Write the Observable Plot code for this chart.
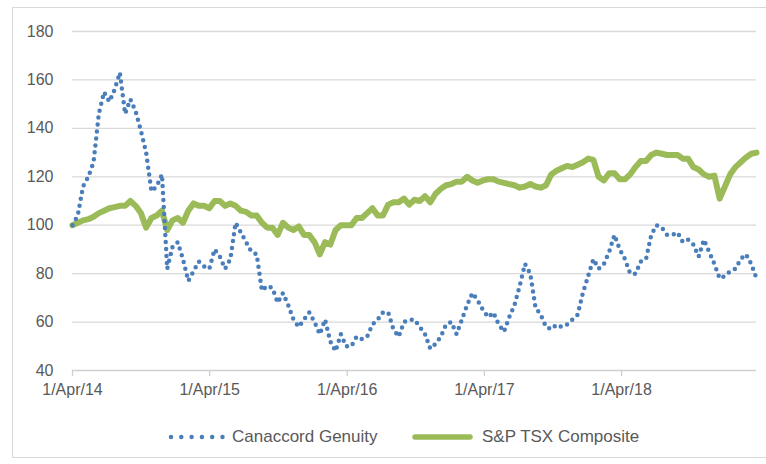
<!DOCTYPE html>
<html><head><meta charset="utf-8">
<script src="https://cdn.jsdelivr.net/npm/d3@7"></script>
<script src="https://cdn.jsdelivr.net/npm/@observablehq/plot@0.6"></script>
<style>
body{margin:0;background:#fff;font-family:"Liberation Sans",Arial,Helvetica,sans-serif;}
#frame{position:absolute;left:12px;top:7px;width:770px;height:451px;border:1px solid #d9d9d9;box-sizing:border-box}
#chart{position:absolute;left:0;top:0}
#legend{position:absolute;left:0;top:0;width:766px;height:464px;pointer-events:none;font-size:17px;color:#595959}
.lg{position:absolute;white-space:nowrap;line-height:20px}
</style></head><body>
<div id="frame"></div>
<div id="chart"></div>
<div id="legend"></div>
<script>
// ---- data (biweekly) ----
const startDate = "2014-04-01";
const stepDays = 14;
const seriesNames = ["Canaccord Genuity", "S&P TSX Composite"];
const canaccord = [
  100,104,116,120,126,146,155,151,156,163,
  146,152,147,139,130,114,116,121,82,91,
  93,86,77,81,85,83,82,90,87,82,
  86,101,97,93,89,88,73,75,74,68,
  72,67,61,58,61,64,60,55,61,52,
  48,55,50,50,54,53,54,59,61,64,
  64,57,54,60,61,61,58,55,49,51,
  54,59,60,55,61,67,72,69,65,62,
  64,59,56,62,67,75,84,80,66,63,
  58,57,59,58,59,61,63,72,79,86,
  82,84,89,96,90,86,80,80,85,86,
  96,100,99,96,96,97,93,94,92,87,
  94,89,84,78,79,81,82,86,88,84,
  78
];
const tsx = [
  100,101,102,102.5,103.5,105,106,107,107.5,108,
  108,110,108,105,99,103,104,106,98,102,
  103,101,106,109,108,108,107,110,110,108,
  109,108,106,105.5,104,104,101,99,99,96,
  101,99,98,99.5,96,96,93,88,93,92,
  98,100,100,100,103,103,105,107,104,104,
  108.5,109.5,109.5,111,108.5,110.5,110,112,109.5,113,
  115,116.5,117,118,118,120,118.5,117.5,118.5,119,
  119,118,117.5,117,116.5,115.5,116,117,116,115.5,
  116.5,121,122.5,123.5,124.5,124,125,126,127.5,127,
  120,118.5,121.5,121.5,119,119,121,124,126.5,126.5,
  129,130,129.5,129,129,129,127.5,127.5,124,123,
  121,120,120.5,111,116,121,124,126,128,129.5,
  130
];
const xTickDates = ["2014-04-01","2015-04-01","2016-04-01","2017-04-01","2018-04-01"];
const xTickLabels = ["1/Apr/14","1/Apr/15","1/Apr/16","1/Apr/17","1/Apr/18"];
const yTicks = [40,60,80,100,120,140,160,180];

const colors = ["#4a7ebb", "#9bbb59"];

const t0 = new Date(startDate + "T00:00:00Z");
const dateAt = i => d3.utcDay.offset(t0, i * stepDays);
const canData = canaccord.map((v, i) => ({date: dateAt(i), value: v}));
const tsxData = tsx.map((v, i) => ({date: dateAt(i), value: v}));
const tickDates = xTickDates.map(d => new Date(d + "T00:00:00Z"));

const chart = Plot.plot({
  width: 766, height: 400,
  marginLeft: 72, marginRight: 10, marginTop: 31, marginBottom: 30,
  style: {fontFamily: '"Liberation Sans",Arial,sans-serif', fontSize: "16px", background: "transparent", overflow: "visible"},
  x: {type: "utc", domain: [canData[0].date, canData[canData.length - 1].date]},
  y: {domain: [40, 180]},
  marks: [
    Plot.gridY(yTicks.filter(v => v > 40), {stroke: "#d9d9d9", strokeOpacity: 1, strokeWidth: 1.3}),
    Plot.ruleY([40], {stroke: "#d0d0d0", strokeWidth: 1.3}),
    Plot.axisY({ticks: yTicks, tickSize: 0, tickPadding: 19, fill: "#595959", label: null}),
    Plot.axisX({ticks: tickDates, tickFormat: (d, i) => xTickLabels[i], tickSize: 6, tickPadding: 7, stroke: "#d0d0d0", strokeWidth: 1.3, fill: "#595959", label: null}),
    Plot.line(tsxData, {x: "date", y: "value", stroke: colors[1], strokeWidth: 6, strokeLinejoin: "round", strokeLinecap: "round"}),
    Plot.line(canData, {x: "date", y: "value", stroke: colors[0], strokeWidth: 4.5, strokeDasharray: "0 7", strokeLinecap: "round"})
  ]
});
document.getElementById("chart").appendChild(chart);

// legend
const lg = document.getElementById("legend");
lg.innerHTML = `
  <svg class="lg" style="left:165px;top:427px" width="65" height="20">
    <line x1="6" y1="10" x2="58" y2="10" stroke="${colors[0]}" stroke-width="4.5" stroke-linecap="round" stroke-dasharray="0 10.3"/>
  </svg>
  <div class="lg" style="left:232px;top:427px">${seriesNames[0]}</div>
  <svg class="lg" style="left:410px;top:427px" width="66" height="20">
    <line x1="5" y1="10" x2="60" y2="10" stroke="${colors[1]}" stroke-width="5.5" stroke-linecap="round"/>
  </svg>
  <div class="lg" style="left:482px;top:427px">${seriesNames[1]}</div>`;
</script>
</body></html>
